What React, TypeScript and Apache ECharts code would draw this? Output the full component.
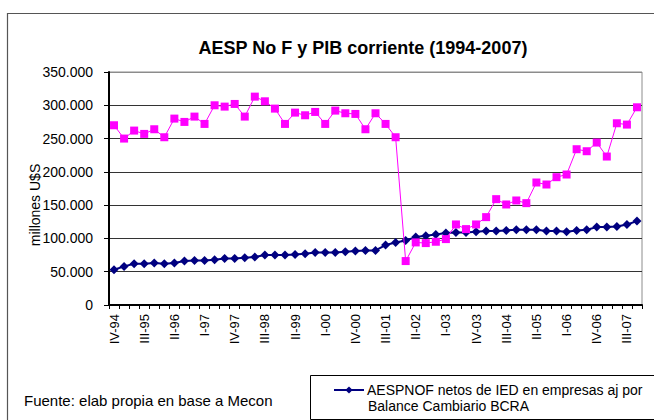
import React, { useEffect, useRef } from "react";
import * as echarts from "echarts";

const quarters = [
  "IV-94",
  "I-95", "II-95", "III-95", "IV-95",
  "I-96", "II-96", "III-96", "IV-96",
  "I-97", "II-97", "III-97", "IV-97",
  "I-98", "II-98", "III-98", "IV-98",
  "I-99", "II-99", "III-99", "IV-99",
  "I-00", "II-00", "III-00", "IV-00",
  "I-01", "II-01", "III-01", "IV-01",
  "I-02", "II-02", "III-02", "IV-02",
  "I-03", "II-03", "III-03", "IV-03",
  "I-04", "II-04", "III-04", "IV-04",
  "I-05", "II-05", "III-05", "IV-05",
  "I-06", "II-06", "III-06", "IV-06",
  "I-07", "II-07", "III-07", "IV-07",
];

const aespnof = [
  53000, 58000, 62000, 62000, 63000, 62000, 63000, 66000, 67000, 67000,
  68000, 70000, 70000, 71000, 72000, 75000, 75000, 75000, 76000, 77000,
  79000, 79000, 79000, 80000, 81000, 82000, 82000, 90000, 94000, 97000,
  102000, 104000, 106000, 108000, 109000, 109000, 110000, 111000, 111000, 112000,
  113000, 113000, 113000, 111000, 111000, 110000, 112000, 113000, 117000, 117000,
  118000, 121000, 126000,
];

const pibCorriente = [
  270000, 250000, 262000, 257000, 264000, 252000, 280000, 275000, 283000, 272000,
  300000, 298000, 302000, 283000, 313000, 306000, 295000, 272000, 289000, 285000,
  290000, 272000, 292000, 288000, 287000, 264000, 288000, 272000, 252000, 66000,
  94000, 93000, 95000, 99000, 121000, 114000, 121000, 132000, 159000, 151000,
  157000, 153000, 184000, 181000, 192000, 196000, 234000, 231000, 244000, 223000,
  273000, 271000, 297000,
];

const aespName = "AESPNOF netos de IED en empresas aj por Balance Cambiario BCRA";
const pibName = "PIB corriente";
const titleText = "AESP No F y PIB corriente (1994-2007)";
const yAxisTitle = "millones U$S";
const sourceText = "Fuente: elab propia en base a Mecon";
const legendLine1 = "AESPNOF netos de IED en empresas aj por";
const legendLine2 = "Balance Cambiario BCRA";

const FONT = "Arial, 'Liberation Sans', Helvetica, sans-serif";

function fmt(v: number): string {
  if (v === 0) return "0";
  const s = String(Math.round(v));
  return s.replace(/\B(?=(\d{3})+(?!\d))/g, ".");
}

export default function App() {
  const ref = useRef<HTMLDivElement>(null);

  useEffect(() => {
    if (!ref.current) return;
    const chart = echarts.init(ref.current, undefined, { renderer: "svg" });
    chart.setOption({
      animation: false,
      backgroundColor: "#ffffff",
      textStyle: { fontFamily: FONT },
      title: {
        text: titleText,
        left: 358,
        top: 34,
        textAlign: "center",
        textStyle: { fontFamily: FONT, fontSize: 18, fontWeight: "bold", color: "#000" },
      },
      grid: {
        left: 109,
        right: 12,
        top: 72,
        bottom: 115,
        show: true,
        borderColor: "#8c8c8c",
        borderWidth: 1,
        containLabel: false,
      },
      legend: {
        data: [aespName],
        left: 333,
        top: 383,
        padding: 0,
        itemWidth: 30,
        itemHeight: 9,
        itemGap: 0,
        formatter: () => legendLine1,
        textStyle: { fontFamily: FONT, fontSize: 14, color: "#000", lineHeight: 14, padding: [0, 0, 0, -2] },
      },
      xAxis: {
        type: "category",
        data: quarters,
        boundaryGap: true,
        axisLine: { lineStyle: { color: "#000", width: 2 } },
        axisTick: { show: true, interval: 0, length: 4, lineStyle: { color: "#000", width: 1 } },
        axisLabel: {
          interval: 2,
          rotate: 90,
          margin: 9,
          fontFamily: FONT,
          fontSize: 13,
          color: "#000",
        },
        splitLine: { show: false },
      },
      yAxis: {
        type: "value",
        min: 0,
        max: 350000,
        interval: 50000,
        axisLine: { show: true, lineStyle: { color: "#000", width: 2 } },
        axisTick: { show: true, length: 5, lineStyle: { color: "#000", width: 1 } },
        axisLabel: {
          formatter: (v: number) => fmt(v),
          margin: 16,
          fontFamily: FONT,
          fontSize: 14,
          color: "#000",
        },
        splitLine: {
          show: true,
          lineStyle: {
            color: ["#333", "#333", "#333", "#333", "#333", "#333", "#333", "#8c8c8c"],
            width: 1,
          },
        },
      },
      series: [
        {
          name: aespName,
          type: "line",
          data: aespnof,
          symbol: "diamond",
          symbolSize: 9,
          showAllSymbol: true,
          lineStyle: { color: "#000080", width: 2 },
          itemStyle: { color: "#000080" },
          z: 2,
        },
        {
          name: pibName,
          type: "line",
          data: pibCorriente,
          symbol: "rect",
          symbolSize: 8,
          showAllSymbol: true,
          lineStyle: { color: "#ff00ff", width: 1 },
          itemStyle: { color: "#ff00ff" },
          z: 3,
        },
      ],
      graphic: [
        {
          type: "rect",
          shape: { x: 7.5, y: 13.5, width: 700, height: 500 },
          style: { fill: "none", stroke: "#555", lineWidth: 1.2 },
          silent: true,
          z: -10,
        },
        {
          type: "rect",
          shape: { x: 310.5, y: 375.5, width: 400, height: 44 },
          style: { fill: "#fff", stroke: "#000", lineWidth: 1 },
          silent: true,
          z: -5,
        },
        {
          type: "text",
          x: 368,
          y: 406,
          style: {
            text: legendLine2,
            font: `14px ${FONT}`,
            fill: "#000",
            textAlign: "left",
            textVerticalAlign: "middle",
          },
        },
        {
          type: "text",
          x: 24,
          y: 400,
          style: {
            text: sourceText,
            font: `15px ${FONT}`,
            fill: "#000",
            textAlign: "left",
            textVerticalAlign: "middle",
          },
        },
        {
          type: "text",
          x: 35,
          y: 205,
          rotation: Math.PI / 2,
          style: {
            text: yAxisTitle,
            font: `14px ${FONT}`,
            fill: "#000",
            textAlign: "center",
            textVerticalAlign: "middle",
          },
        },
      ],
    });
    return () => chart.dispose();
  }, []);

  return (
    <div
      ref={ref}
      style={{ position: "fixed", left: 0, top: 0, width: 654, height: 420, background: "#fff" }}
    />
  );
}
